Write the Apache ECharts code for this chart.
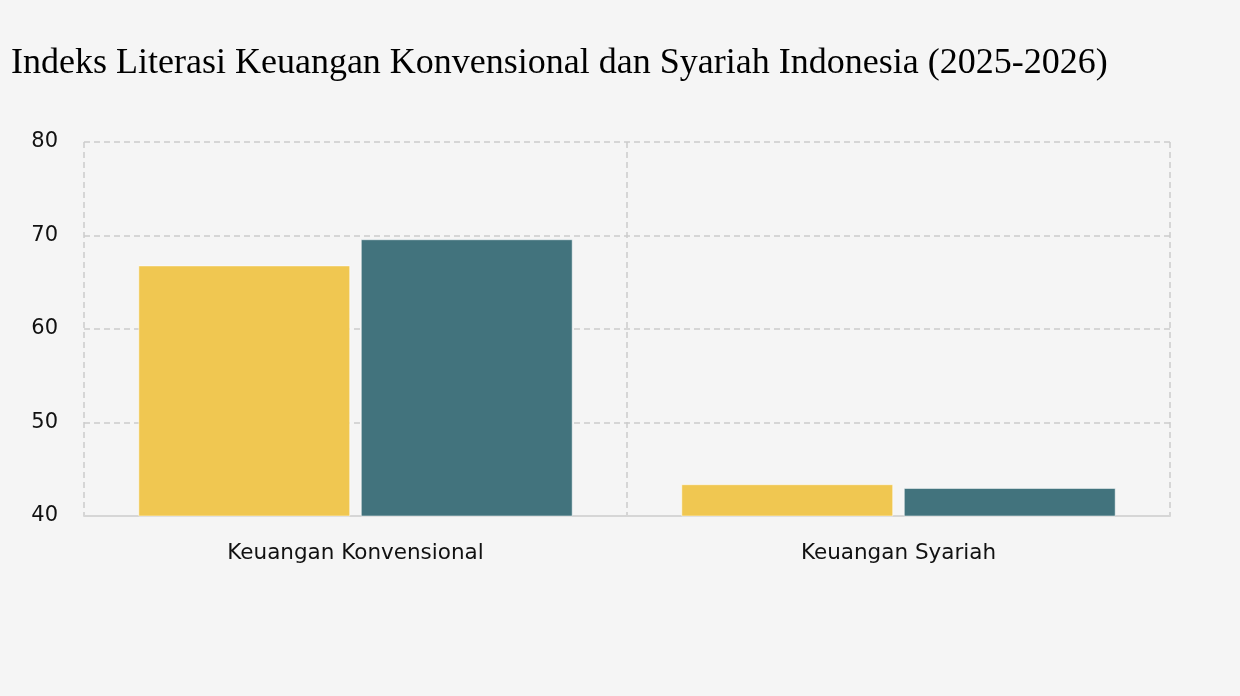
<!DOCTYPE html>
<html>
<head>
<meta charset="utf-8">
<script src="https://cdn.jsdelivr.net/npm/echarts@6/dist/echarts.min.js"></script>
<style>
html,body{margin:0;padding:0;background:#f5f5f5;}
#c{width:1240px;height:696px;}
</style>
</head>
<body>
<div id="c"></div>
<script>
const categories = ["Keuangan Konvensional", "Keuangan Syariah"];
const seriesNames = ["2025", "2026"];
const values2025 = [66.8, 43.4];
const values2026 = [69.6, 43.0];
const yTicks = { min: 40, max: 80, interval: 10 };

const chart = echarts.init(document.getElementById('c'));
chart.setOption({
  backgroundColor: '#f5f5f5',
  title: {
    text: 'Indeks Literasi Keuangan Konvensional dan Syariah Indonesia (2025-2026)',
    left: 6, top: 41,
    textStyle: { fontFamily: 'Liberation Serif', fontSize: 36, fontWeight: 'normal', color: '#000' }
  },
  grid: { left: 84, right: 70, top: 142, bottom: 180 },
  xAxis: {
    type: 'category',
    data: categories,
    axisLine: { lineStyle: { color: '#d6d6d6', width: 2 } },
    axisTick: { alignWithLabel: true, length: 8, lineStyle: { color: '#d6d6d6', width: 2 } },
    axisLabel: { fontFamily: 'DejaVu Sans', fontSize: 21.5, color: '#111', margin: 26 },
    splitLine: { show: true, lineStyle: { color: '#cccccc', type: [6, 4], width: 1.5 } }
  },
  yAxis: {
    type: 'value',
    min: yTicks.min, max: yTicks.max, interval: yTicks.interval,
    axisLine: { show: false },
    axisTick: { show: false },
    axisLabel: { fontFamily: 'DejaVu Sans', fontSize: 21, color: '#111', margin: 26, padding: [5, 0, 0, 0] },
    splitLine: { lineStyle: { color: '#cccccc', type: [6, 4], width: 1.5 } }
  },
  series: [
    {
      name: seriesNames[0], type: 'bar', data: values2025,
      barCategoryGap: '20%', barGap: '5%',
      itemStyle: { color: '#f0c751', borderColor: 'rgba(255,255,255,0.5)', borderWidth: 1 }
    },
    {
      name: seriesNames[1], type: 'bar', data: values2026,
      barCategoryGap: '20%', barGap: '5%',
      itemStyle: { color: '#42737d', borderColor: 'rgba(255,255,255,0.5)', borderWidth: 1 }
    }
  ]
});
</script>
</body>
</html>
